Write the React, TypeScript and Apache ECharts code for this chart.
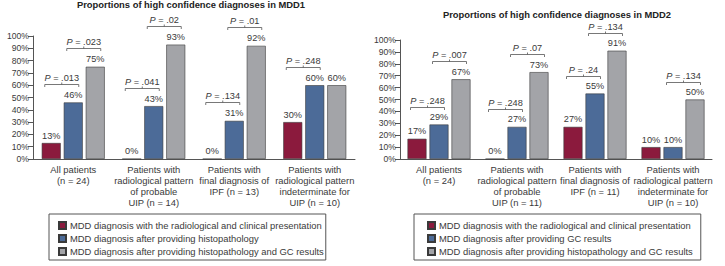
import React, { useEffect, useRef } from "react";
import * as echarts from "echarts";

const FONT = "'Liberation Sans', Arial, Helvetica, sans-serif";
const TXT = "#3a3a3a";

const titles = [
  "Proportions of high confidence diagnoses in MDD1",
  "Proportions of high confidence diagnoses in MDD2",
];

const categories1 = [
  "All patients\n(n = 24)",
  "Patients with\nradiological pattern\nof probable\nUIP (n = 14)",
  "Patients with\nfinal diagnosis of\nIPF (n = 13)",
  "Patients with\nradiological pattern\nindeterminate for\nUIP (n = 10)",
];
const categories2 = [
  "All patients\n(n = 24)",
  "Patients with\nradiological pattern\nof probable\nUIP (n = 11)",
  "Patients with\nfinal diagnosis of\nIPF (n = 11)",
  "Patients with\nradiological pattern\nindeterminate for\nUIP (n = 10)",
];

const names1 = [
  "MDD diagnosis with the radiological and clinical presentation",
  "MDD diagnosis after providing histopathology",
  "MDD diagnosis after providing histopathology and GC results",
];
const names2 = [
  "MDD diagnosis with the radiological and clinical presentation",
  "MDD diagnosis after providing GC results",
  "MDD diagnosis after providing histopathology and GC results",
];

const mdd1Clinical = [13, 0, 0, 30];
const mdd1Second = [46, 43, 31, 60];
const mdd1Third = [75, 93, 92, 60];

const mdd2Clinical = [17, 0, 27, 10];
const mdd2Second = [29, 27, 55, 10];
const mdd2Third = [67, 73, 91, 50];

// [category, from series, to series]
const pairs1 = [
  [0, 0, 1],
  [0, 1, 2],
  [1, 0, 1],
  [1, 1, 2],
  [2, 0, 1],
  [2, 1, 2],
  [3, 0, 1],
];
const pLabels1 = [".013", ".023", ".041", ".02", ".134", ".01", ".248"];

const pairs2 = [
  [0, 0, 1],
  [0, 1, 2],
  [1, 0, 1],
  [1, 1, 2],
  [2, 0, 1],
  [2, 1, 2],
  [3, 1, 2],
];
const pLabels2 = [".248", ".007", ".248", ".07", ".24", ".134", ".134"];

const yTicks = [0, 10, 20, 30, 40, 50, 60, 70, 80, 90, 100];

const COLORS = ["#8b1a3d", "#4c6b98", "#a3a4a8"];
const BAR_W = 19;
const BAR_GAP = 3;
const BRACKET_ABOVE = 15;

export default function App() {
  const ref = useRef<HTMLDivElement>(null);

  useEffect(() => {
    if (!ref.current) return;
    const chart = echarts.init(ref.current, null, { renderer: "svg" });

    const seriesVals = [
      [mdd1Clinical, mdd1Second, mdd1Third],
      [mdd2Clinical, mdd2Second, mdd2Third],
    ];
    const names = [names1, names2];

    const barSeries: any[] = [];
    for (let c = 0; c < 2; c++) {
      for (let k = 0; k < 3; k++) {
        barSeries.push({
          type: "bar",
          name: names[c][k],
          xAxisIndex: c,
          yAxisIndex: c,
          data: seriesVals[c][k],
          barWidth: BAR_W,
          barGap: ((BAR_GAP / BAR_W) * 100).toFixed(1) + "%",
          itemStyle: { color: COLORS[k], borderColor: "#3a3a3a", borderWidth: 0.6 },
          label: {
            show: true,
            position: "top",
            distance: 3,
            formatter: "{c}%",
            fontSize: 9.2,
            fontFamily: FONT,
            color: TXT,
          },
        });
      }
    }

    const bracketSeries = (c: number, pairs: number[][], labels: string[]) => {
      const vals = seriesVals[c];
      const data = pairs.map((p) => {
        const lvl = Math.max(vals[p[1]][p[0]], vals[p[2]][p[0]]) + BRACKET_ABOVE;
        return [p[0], lvl, p[1], p[2]];
      });
      return {
        type: "custom",
        xAxisIndex: c,
        yAxisIndex: c,
        clip: false,
        silent: true,
        encode: { x: 0, y: 1 },
        data,
        renderItem: (params: any, api: any) => {
          const cat = api.value(0);
          const lvl = api.value(1);
          const a = api.value(2);
          const b = api.value(3);
          const pt = api.coord([cat, lvl]);
          const step = BAR_W + BAR_GAP;
          const x1 = pt[0] + (a - 1) * step - BAR_W / 2 + 3;
          const x2 = pt[0] + (b - 1) * step + BAR_W / 2 - 4;
          const y = Math.round(pt[1]) + 0.5;
          const mid = (x1 + x2) / 2;
          return {
            type: "group",
            children: [
              {
                type: "polyline",
                shape: { points: [[x1, y + 2.5], [x1, y], [x2, y], [x2, y + 2.5]] },
                style: { stroke: "#555", fill: null, lineWidth: 0.8 },
              },
              {
                type: "line",
                shape: { x1: mid, y1: y, x2: mid, y2: y - 2 },
                style: { stroke: "#555", lineWidth: 0.8 },
              },
              {
                type: "text",
                x: mid,
                y: y - 2,
                style: {
                  text: "{i|P} = " + labels[params.dataIndex],
                  fill: TXT,
                  fontSize: 9.2,
                  fontFamily: FONT,
                  align: "center",
                  verticalAlign: "bottom",
                  textAlign: "center",
                  textVerticalAlign: "bottom",
                  rich: {
                    i: { fontStyle: "italic", fontSize: 9.2, fontFamily: FONT, fill: TXT },
                  },
                },
              },
            ],
          };
        },
      };
    };

    const yAxis = (c: number) => ({
      type: "value",
      gridIndex: c,
      min: 0,
      max: 100,
      interval: 10,
      axisLine: { show: true, lineStyle: { color: "#555", width: 1 } },
      axisTick: { show: true, length: 5, lineStyle: { color: "#555" } },
      splitLine: { show: false },
      axisLabel: {
        formatter: (v: number) => (yTicks.includes(v) ? v + "%" : ""),
        fontSize: 8.6,
        fontFamily: FONT,
        color: TXT,
        margin: 4,
      },
    });

    const xAxis = (c: number, cats: string[]) => ({
      type: "category",
      gridIndex: c,
      data: cats,
      axisLine: { show: true, lineStyle: { color: "#555", width: 1 } },
      axisTick: { show: false },
      axisLabel: {
        interval: 0,
        fontSize: 9.4,
        fontFamily: FONT,
        color: TXT,
        margin: 5,
        lineHeight: 11,
      },
    });

    const legend = (c: number, left: number, padding: number[]) => ({
      data: names[c],
      orient: "vertical",
      left,
      top: 214,
      icon: "rect",
      itemWidth: 7,
      itemHeight: 7,
      itemGap: 4,
      borderColor: "#555",
      borderWidth: 1,
      padding,
      selectedMode: false,
      textStyle: { fontSize: 9.4, fontFamily: FONT, color: TXT, padding: [0, 0, 0, -1] },
    });

    chart.setOption({
      animation: false,
      backgroundColor: "#fff",
      title: [
        {
          text: titles[0],
          left: 191,
          top: 0,
          textAlign: "center",
          padding: 0,
          textStyle: { fontSize: 9.4, fontWeight: "bold", fontFamily: FONT, color: "#222" },
        },
        {
          text: titles[1],
          left: 557,
          top: 10,
          textAlign: "center",
          padding: 0,
          textStyle: { fontSize: 9.4, fontWeight: "bold", fontFamily: FONT, color: "#222" },
        },
      ],
      grid: [
        { left: 33, right: 370, top: 36, bottom: 107 },
        { left: 400, right: 13, top: 40, bottom: 107 },
      ],
      xAxis: [xAxis(0, categories1), xAxis(1, categories2)],
      yAxis: [yAxis(0), yAxis(1)],
      legend: [legend(0, 49, [7, 2, 4, 9]), legend(1, 414, [7, 8, 4, 13])],
      series: [
        ...barSeries,
        bracketSeries(0, pairs1, pLabels1),
        bracketSeries(1, pairs2, pLabels2),
      ],
    });

    return () => chart.dispose();
  }, []);

  return (
    <div
      ref={ref}
      style={{ position: "fixed", left: 0, top: 0, width: 725, height: 266 }}
    />
  );
}
